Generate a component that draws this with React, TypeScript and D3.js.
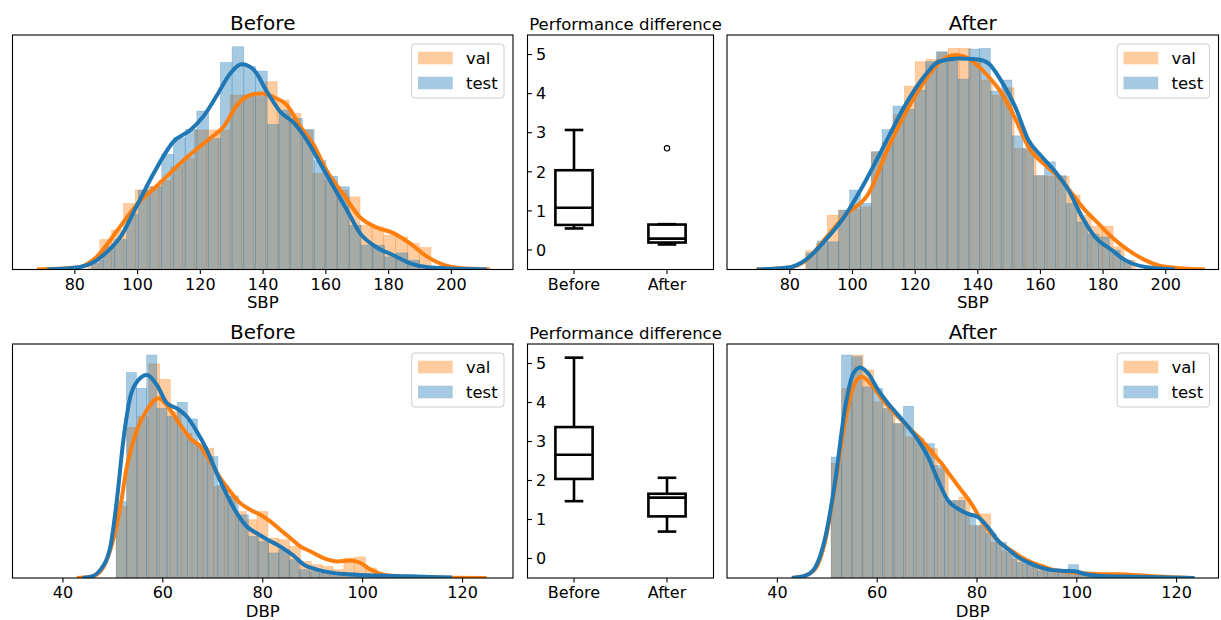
import { useEffect, useRef } from "react";
import * as d3 from "d3";

const FONT = "DejaVu Sans, Verdana, sans-serif";
const ORANGE = "#ff7f0e";
const BLUE = "#1f77b4";

// axis ticks / labels
const sbpTicks = [80, 100, 120, 140, 160, 180, 200];
const dbpTicks = [40, 60, 80, 100, 120];
const diffTicks = [0, 1, 2, 3, 4, 5];
const groups = ["Before", "After"];
const legendNames = ["val", "test"];

// histogram heights (density, in % of each panel's y max), bins: [start, width]
const sbpBeforeValBins = [84.35, 3.77];
const sbpBeforeVal = [2.6, 12.8, 16.8, 28.2, 33.9, 35.3, 38.1, 43.8, 47.4, 59.5, 59.5, 59.5, 74.4, 74.4, 73.7, 80.1, 72.3, 66.6, 59.5, 41.0, 38.1, 33.9, 31.0, 18.9, 18.2, 14.7, 13.9, 11.1, 9.4];
const sbpBeforeTestBins = [85.42, 3.738];
const sbpBeforeTest = [4.0, 9.7, 12.8, 23.6, 33.9, 35.3, 49.2, 56.2, 59.7, 67.6, 55.9, 88.3, 95.0, 86.5, 84.6, 61.9, 68.0, 64.4, 59.7, 46.4, 39.8, 35.3, 18.9, 10.4, 10.4, 5.4, 7.1, 4.0];

const sbpAfterValBins = [85.1, 3.509];
const sbpAfterVal = [8.0, 11.1, 23.2, 25.3, 25.7, 26.7, 50.2, 54.2, 66.1, 78.2, 88.6, 89.6, 92.6, 94.3, 94.3, 88.9, 80.8, 74.4, 77.5, 51.6, 50.9, 40.0, 39.8, 39.8, 31.7, 23.2, 18.5, 18.5, 9.7, 4.0];
const sbpAfterTestBins = [85.42, 3.456];
const sbpAfterTest = [7.1, 12.2, 11.8, 25.3, 33.9, 28.2, 50.2, 59.7, 69.7, 68.3, 76.5, 88.6, 92.9, 88.9, 81.2, 94.0, 94.3, 76.1, 80.8, 57.0, 51.6, 40.0, 45.9, 40.0, 28.2, 20.3, 15.1, 13.9, 8.3, 4.0];

const dbpBeforeValBins = [50.75, 2.171];
const dbpBeforeVal = [30.6, 64.4, 69.0, 91.5, 84.9, 71.1, 61.9, 57.6, 55.5, 39.1, 34.9, 28.4, 24.9, 28.4, 17.1, 16.4, 13.5, 7.1, 5.7, 5.0, 3.6, 8.5, 9.0, 4.3, 1.4, 0.4, 0.3, 0.3, 0.1];
const dbpBeforeTestBins = [50.75, 2.037];
const dbpBeforeTest = [32.7, 87.8, 81.1, 95.3, 72.5, 69.0, 75.1, 68.0, 56.2, 51.9, 39.8, 35.1, 27.0, 17.8, 15.6, 10.7, 12.1, 7.8, 3.6, 2.8, 2.1, 1.7, 1.3, 1.0, 0.7, 0.7, 0.4];

const dbpAfterValBins = [50.87, 2.133];
const dbpAfterVal = [49.1, 81.0, 95.3, 88.9, 75.3, 72.4, 66.0, 60.3, 57.4, 55.3, 46.7, 33.1, 34.6, 22.4, 27.4, 15.3, 11.7, 8.1, 6.0, 6.0, 3.1, 2.9, 2.4, 2.1, 2.4, 1.7, 1.7, 1.3, 0.9, 0.6];
const dbpAfterTestBins = [50.87, 2.067];
const dbpAfterTest = [51.7, 95.3, 94.6, 81.7, 81.0, 72.4, 66.0, 73.4, 59.6, 57.4, 48.1, 33.1, 33.1, 27.4, 22.4, 19.1, 15.3, 11.0, 6.7, 6.0, 3.1, 2.9, 2.4, 5.7, 1.7, 1.1, 0.9, 0.6, 0.4, 0.3];

// kde curves [value, density]
const sbpBeforeValKde = [[68.1, 0], [80.9, 0.85], [87.2, 5.5], [93.6, 16.5], [100.3, 28.2], [106.3, 35.6], [111.6, 42.5], [117.0, 49.1], [123.3, 56.0], [127.6, 60.9], [131.8, 70.0], [136.1, 74.4], [139.8, 75.1], [143.5, 73.5], [147.8, 70.0], [152.0, 61.0], [156.3, 53.1], [160.5, 42.0], [165.8, 32.0], [171.1, 22.2], [176.4, 17.9], [181.7, 15.5], [187.0, 11.1], [192.4, 5.5], [197.7, 2.0], [203.0, 0.6], [212.5, 0]];
const sbpBeforeTestKde = [[71.3, 0], [80.9, 0.85], [87.2, 4.0], [90.4, 7.5], [94.7, 13.9], [100.3, 28.2], [105.3, 41.0], [111.6, 54.5], [117.0, 59.5], [121.2, 65.4], [125.5, 74.4], [129.7, 83.6], [133.4, 87.5], [137.1, 85.3], [141.4, 75.8], [145.6, 67.3], [149.9, 62.6], [154.1, 55.2], [158.4, 45.2], [162.6, 35.3], [166.9, 25.3], [171.1, 15.4], [176.4, 9.4], [181.7, 6.1], [187.0, 2.6], [193.4, 0.85], [211.5, 0]];

const sbpAfterValKde = [[69.4, 0], [79.8, 0.85], [85.1, 3.7], [91.5, 13.2], [97.9, 23.2], [105.3, 32.4], [111.7, 52.3], [117.0, 66.6], [123.4, 80.8], [127.6, 87.9], [133.0, 91.5], [137.2, 90.0], [143.6, 82.2], [147.8, 75.1], [152.1, 64.4], [156.3, 52.3], [161.7, 44.5], [165.9, 39.5], [170.2, 32.4], [174.4, 25.3], [178.7, 19.6], [182.9, 13.9], [188.2, 8.3], [193.6, 4.0], [198.9, 1.4], [212.7, 0]];
const sbpAfterTestKde = [[69.7, 0], [79.8, 0.85], [85.1, 4.0], [91.5, 12.5], [97.9, 23.2], [104.2, 37.4], [110.6, 53.8], [117.0, 70.1], [123.4, 82.9], [127.6, 88.6], [134.0, 90.0], [140.4, 89.6], [143.6, 87.9], [147.8, 80.1], [152.1, 69.4], [156.3, 55.2], [160.6, 48.1], [164.9, 41.7], [169.1, 33.9], [173.4, 22.5], [177.6, 13.9], [182.9, 8.3], [187.2, 4.0], [193.6, 1.1], [203.1, 0]];

const dbpBeforeValKde = [[42.9, 0], [45.5, 0.4], [47.6, 2.8], [49.6, 12.1], [51.6, 30.6], [52.9, 47.7], [54.9, 63.3], [56.9, 71.8], [59.2, 76.8], [61.6, 71.8], [63.6, 65.4], [65.6, 59.7], [67.6, 56.2], [69.6, 49.8], [71.6, 42.7], [73.6, 37.0], [75.6, 32.0], [77.6, 29.2], [79.6, 27.0], [81.6, 24.2], [83.6, 20.6], [85.6, 17.1], [87.6, 13.5], [89.6, 11.4], [92.3, 8.5], [95.0, 7.1], [97.7, 7.5], [99.7, 6.4], [101.7, 3.6], [104.3, 1.4], [109.7, 0.4], [116.4, 0.1], [124.9, 0]];
const dbpBeforeTestKde = [[44.0, 0], [45.5, 0.4], [47.6, 3.5], [49.6, 13.5], [50.9, 33.4], [52.2, 59.0], [53.6, 77.5], [55.2, 84.6], [56.9, 86.8], [58.9, 82.5], [60.9, 74.7], [62.9, 72.5], [64.9, 69.0], [66.9, 62.6], [68.9, 54.8], [70.9, 44.8], [72.9, 35.6], [74.9, 27.7], [76.9, 22.0], [79.0, 19.0], [81.0, 16.4], [83.0, 14.2], [85.0, 11.5], [86.3, 9.5], [88.3, 5.7], [91.0, 3.6], [93.6, 2.4], [96.3, 1.7], [103.0, 1.1], [109.7, 0.7], [118.0, 0.2]];

const dbpAfterValKde = [[43.0, 0], [45.7, 1.0], [47.7, 3.9], [49.7, 16.0], [51.7, 40.3], [53.7, 67.4], [55.3, 81.7], [57.0, 86.0], [59.0, 82.4], [61.0, 76.7], [63.0, 71.7], [65.0, 67.4], [67.0, 63.1], [69.0, 58.9], [71.0, 53.9], [73.0, 48.9], [75.0, 43.1], [77.0, 37.4], [79.0, 31.7], [81.0, 24.6], [83.0, 18.9], [85.0, 14.6], [87.0, 11.7], [89.0, 8.9], [91.0, 6.7], [93.7, 4.6], [96.3, 3.1], [99.0, 2.6], [101.7, 2.0], [104.3, 1.7], [108.3, 1.6], [111.7, 1.3], [116.3, 0.6], [123.0, 0]];
const dbpAfterTestKde = [[43.0, 0], [45.7, 1.0], [47.7, 4.6], [49.7, 17.4], [51.7, 41.7], [53.7, 73.1], [55.3, 87.4], [56.7, 90.0], [58.3, 87.4], [60.3, 80.3], [62.3, 74.6], [64.3, 69.6], [66.3, 64.6], [68.3, 58.9], [70.3, 51.7], [72.3, 41.7], [74.3, 33.1], [76.3, 29.6], [78.3, 27.4], [80.3, 26.0], [82.3, 21.7], [84.3, 16.0], [86.3, 12.4], [88.3, 8.9], [90.3, 6.7], [92.3, 4.9], [94.3, 3.7], [97.0, 3.1], [99.7, 2.9], [101.7, 1.7], [104.3, 1.0], [109.7, 0.6], [116.3, 0.3], [123.7, 0]];

// performance difference boxplots: [low whisker, q1, median, q3, high whisker]
const sbpDiffBefore = [0.55, 0.64, 1.08, 2.04, 3.07];
const sbpDiffAfter = [0.14, 0.19, 0.29, 0.65, 0.66];
const sbpDiffAfterOutliers = [2.6];
const dbpDiffBefore = [1.47, 2.04, 2.66, 3.37, 5.15];
const dbpDiffAfter = [0.69, 1.08, 1.56, 1.66, 2.07];

const histPanels = [
  { title: "Before", label: "SBP", ticks: sbpTicks, domain: [60.3, 219.8], left: 12.5, right: 513, top: 35, bottom: 269.5,
    val: sbpBeforeVal, valBins: sbpBeforeValBins, test: sbpBeforeTest, testBins: sbpBeforeTestBins, valKde: sbpBeforeValKde, testKde: sbpBeforeTestKde },
  { title: "After", label: "SBP", ticks: sbpTicks, domain: [60.1, 217], left: 727, right: 1218.5, top: 35, bottom: 269.5,
    val: sbpAfterVal, valBins: sbpAfterValBins, test: sbpAfterTest, testBins: sbpAfterTestBins, valKde: sbpAfterValKde, testKde: sbpAfterTestKde },
  { title: "Before", label: "DBP", ticks: dbpTicks, domain: [30, 130.2], left: 12.5, right: 513, top: 344, bottom: 578,
    val: dbpBeforeVal, valBins: dbpBeforeValBins, test: dbpBeforeTest, testBins: dbpBeforeTestBins, valKde: dbpBeforeValKde, testKde: dbpBeforeTestKde },
  { title: "After", label: "DBP", ticks: dbpTicks, domain: [30, 128.5], left: 727, right: 1218.5, top: 344, bottom: 578,
    val: dbpAfterVal, valBins: dbpAfterValBins, test: dbpAfterTest, testBins: dbpAfterTestBins, valKde: dbpAfterValKde, testKde: dbpAfterTestKde },
];

const boxPanels = [
  { top: 35, bottom: 269.5, stats: [sbpDiffBefore, sbpDiffAfter], outliers: [[], sbpDiffAfterOutliers] },
  { top: 344, bottom: 578, stats: [dbpDiffBefore, dbpDiffAfter], outliers: [[], []] },
];

function drawHist(svg: any, p: any, idx: number) {
  const x = d3.scaleLinear().domain(p.domain).range([p.left, p.right]);
  const y = d3.scaleLinear().domain([0, 100]).range([p.bottom, p.top]);

  svg.append("clipPath").attr("id", "clip" + idx)
    .append("rect").attr("x", p.left).attr("y", p.top)
    .attr("width", p.right - p.left).attr("height", p.bottom - p.top);
  const g = svg.append("g").attr("clip-path", `url(#clip${idx})`);

  const series = [
    { h: p.val, bins: p.valBins, color: ORANGE },
    { h: p.test, bins: p.testBins, color: BLUE },
  ];
  series.forEach((s) => {
    const [start, w] = s.bins;
    g.append("g").selectAll("rect").data(s.h).join("rect")
      .attr("x", (_d: number, i: number) => x(start + i * w))
      .attr("width", x(start + w) - x(start))
      .attr("y", (d: number) => y(d))
      .attr("height", (d: number) => y(0) - y(d))
      .attr("fill", s.color).attr("fill-opacity", 0.4)
      .attr("stroke", s.color).attr("stroke-opacity", 0.35).attr("stroke-width", 0.6);
  });

  const line = d3.line<number[]>().x((d) => x(d[0])).y((d) => y(d[1])).curve(d3.curveMonotoneX);
  [[p.valKde, ORANGE], [p.testKde, BLUE]].forEach(([data, color]: any) => {
    g.append("path").attr("d", line(data)).attr("fill", "none")
      .attr("stroke", color).attr("stroke-width", 4).attr("stroke-linejoin", "round");
  });

  // frame
  svg.append("rect").attr("x", p.left).attr("y", p.top)
    .attr("width", p.right - p.left).attr("height", p.bottom - p.top)
    .attr("fill", "none").attr("stroke", "#000").attr("stroke-width", 1.1);

  // x axis
  const ax = svg.append("g").attr("transform", `translate(0,${p.bottom})`)
    .call(d3.axisBottom(x).tickValues(p.ticks).tickSize(4.5).tickPadding(4.6).tickFormat(d3.format("d")));
  ax.select(".domain").remove();
  ax.selectAll("line").attr("stroke-width", 1.1);
  ax.selectAll("text").attr("font-size", 16).attr("font-family", FONT).attr("fill", "#000");

  svg.append("text").attr("x", (p.left + p.right) / 2).attr("y", p.bottom + 38.5)
    .attr("text-anchor", "middle").attr("font-size", 16.5).attr("font-family", FONT).text(p.label);
  svg.append("text").attr("x", (p.left + p.right) / 2).attr("y", p.top - 5)
    .attr("text-anchor", "middle").attr("font-size", 20).attr("font-family", FONT).text(p.title);

  // legend
  const lg = svg.append("g").attr("transform", `translate(${p.right - 101.3},${p.top + 9})`);
  lg.append("rect").attr("width", 92.3).attr("height", 54).attr("rx", 3)
    .attr("fill", "#fff").attr("fill-opacity", 0.8).attr("stroke", "#cccccc").attr("stroke-width", 1);
  legendNames.forEach((name, i) => {
    const c = i === 0 ? ORANGE : BLUE;
    lg.append("rect").attr("x", 6.3).attr("y", 7.7 + i * 25).attr("width", 34.7).attr("height", 12.6)
      .attr("fill", c).attr("fill-opacity", 0.4);
    lg.append("text").attr("x", 54.3).attr("y", 20 + i * 25)
      .attr("font-size", 16.5).attr("font-family", FONT).text(name);
  });
}

function drawBox(svg: any, p: any) {
  const left = 527.5, right = 713.5;
  const x = d3.scaleLinear().domain([0.5, 2.5]).range([left, right]);
  const y = d3.scaleLinear().domain([-0.5, 5.5]).range([p.bottom, p.top]);
  const g = svg.append("g").attr("stroke", "#000").attr("stroke-width", 2.6).attr("fill", "none");

  p.stats.forEach((s: number[], i: number) => {
    const c = i + 1;
    const [lo, q1, med, q3, hi] = s;
    g.append("line").attr("x1", x(c)).attr("x2", x(c)).attr("y1", y(q3)).attr("y2", y(hi));
    g.append("line").attr("x1", x(c)).attr("x2", x(c)).attr("y1", y(q1)).attr("y2", y(lo));
    [lo, hi].forEach((v) => {
      g.append("line").attr("x1", x(c - 0.1)).attr("x2", x(c + 0.1)).attr("y1", y(v)).attr("y2", y(v));
    });
    g.append("rect").attr("x", x(c - 0.2)).attr("width", x(c + 0.2) - x(c - 0.2))
      .attr("y", y(q3)).attr("height", y(q1) - y(q3));
    g.append("line").attr("x1", x(c - 0.2)).attr("x2", x(c + 0.2)).attr("y1", y(med)).attr("y2", y(med));
    p.outliers[i].forEach((v: number) => {
      g.append("circle").attr("cx", x(c)).attr("cy", y(v)).attr("r", 2.7).attr("stroke-width", 1.1);
    });
  });

  svg.append("rect").attr("x", left).attr("y", p.top).attr("width", right - left).attr("height", p.bottom - p.top)
    .attr("fill", "none").attr("stroke", "#000").attr("stroke-width", 1.1);

  diffTicks.forEach((t) => {
    svg.append("line").attr("x1", left).attr("x2", left + 4.5).attr("y1", y(t)).attr("y2", y(t))
      .attr("stroke", "#000").attr("stroke-width", 1.1);
    svg.append("text").attr("x", left + 8.5).attr("y", y(t)).attr("dy", "0.36em")
      .attr("font-size", 16).attr("font-family", FONT).text(t);
  });
  groups.forEach((name, i) => {
    svg.append("line").attr("x1", x(i + 1)).attr("x2", x(i + 1)).attr("y1", p.bottom).attr("y2", p.bottom + 4.5)
      .attr("stroke", "#000").attr("stroke-width", 1.1);
    svg.append("text").attr("x", x(i + 1)).attr("y", p.bottom + 20).attr("text-anchor", "middle")
      .attr("font-size", 16).attr("font-family", FONT).text(name);
  });
  svg.append("text").attr("x", (left + right) / 2 + 5).attr("y", p.top - 5).attr("text-anchor", "middle")
    .attr("font-size", 16.5).attr("font-family", FONT).text("Performance difference");
}

const App = () => {
  const svgRef = useRef<SVGSVGElement>(null);

  useEffect(() => {
    const svg = d3.select(svgRef.current);
    svg.selectAll("*").remove();
    svg.append("rect").attr("width", 1221).attr("height", 620).attr("fill", "#fff");
    histPanels.forEach((p, i) => drawHist(svg, p, i));
    boxPanels.forEach((p) => drawBox(svg, p));
  }, []);

  return (
    <svg ref={svgRef} width={1221} height={620}
      style={{ position: "absolute", left: 0, top: 0, display: "block" }} />
  );
};

export default App;
